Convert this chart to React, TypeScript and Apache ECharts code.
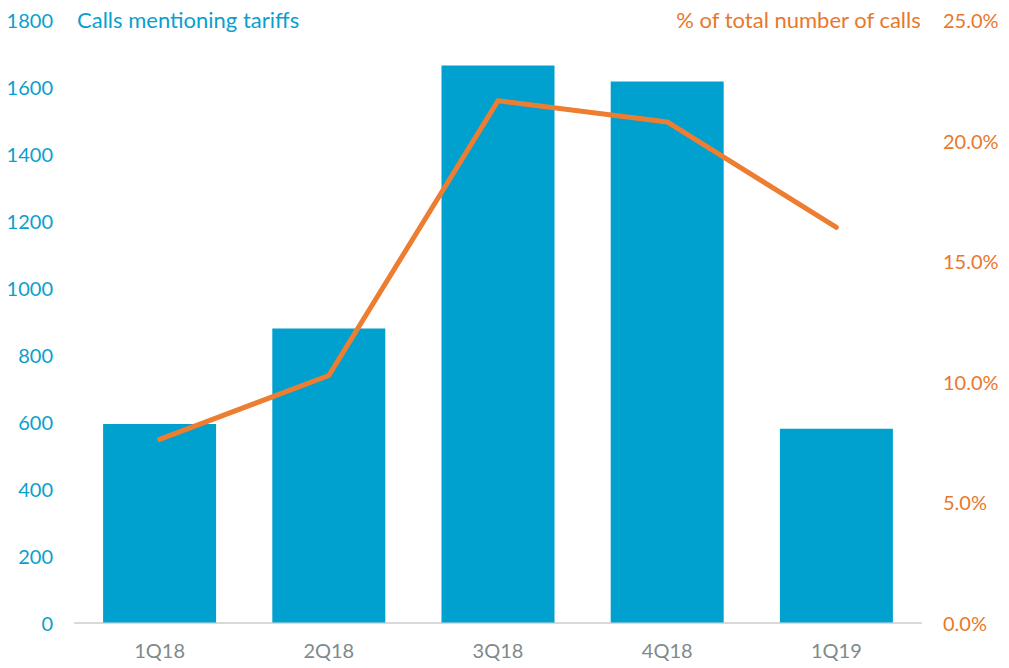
import React, { useEffect, useRef } from "react";
import * as echarts from "echarts";

const categories = ["1Q18", "2Q18", "3Q18", "4Q18", "1Q19"];
const callsMentioningTariffs = [593, 878, 1664, 1616, 579];
const pctOfTotalCalls = [7.6, 10.25, 21.65, 20.77, 16.4];
const leftTitle = "Calls mentioning tariffs";
const rightTitle = "% of total number of calls";

const BLUE = "#00A1CF";
const BLUE_TEXT = "#0A9FCE";
const ORANGE = "#ED7D31";
const ORANGE_TEXT = "#E8782C";
const GRAY_TEXT = "#7E8A8C";
const FONT = "Lato, 'Open Sans', sans-serif";

export default function App() {
  const ref = useRef<HTMLDivElement>(null);
  useEffect(() => {
    if (!ref.current) return;
    const chart = echarts.init(ref.current, undefined, { renderer: "svg" });
    chart.setOption({
      animation: false,
      backgroundColor: "#ffffff",
      grid: { left: 75, right: 88, top: 20, bottom: 45.5, containLabel: false },
      graphic: [
        {
          type: "text",
          left: 77,
          top: 8,
          style: { text: leftTitle, fill: BLUE_TEXT, font: `22px ${FONT}` },
        },
        {
          type: "text",
          right: 87,
          top: 8,
          style: { text: rightTitle, fill: ORANGE_TEXT, font: `22px ${FONT}` },
        },
      ],
      xAxis: {
        type: "category",
        data: categories,
        axisLine: { show: true, lineStyle: { color: "#D9D9D9", width: 2 } },
        axisTick: { show: false },
        axisLabel: { color: GRAY_TEXT, fontSize: 20, fontFamily: FONT, margin: 17 },
      },
      yAxis: [
        {
          type: "value",
          min: 0,
          max: 1800,
          interval: 200,
          splitLine: { show: false },
          axisLine: { show: false },
          axisTick: { show: false },
          axisLabel: {
            color: BLUE_TEXT,
            fontSize: 20,
            fontFamily: FONT,
            margin: 22,
            formatter: (v: number) => String(v),
          },
        },
        {
          type: "value",
          min: 0,
          max: 25,
          interval: 5,
          position: "right",
          splitLine: { show: false },
          axisLine: { show: false },
          axisTick: { show: false },
          axisLabel: {
            color: ORANGE_TEXT,
            fontSize: 20,
            fontFamily: FONT,
            margin: 22,
            formatter: (v: number) => v.toFixed(1) + "%",
          },
        },
      ],
      series: [
        {
          type: "bar",
          data: callsMentioningTariffs,
          yAxisIndex: 0,
          barWidth: 113,
          itemStyle: { color: BLUE },
        },
        {
          type: "line",
          data: pctOfTotalCalls,
          yAxisIndex: 1,
          showSymbol: false,
          symbol: "none",
          lineStyle: { color: ORANGE, width: 5, cap: "round", join: "round" },
        },
      ],
    });
    return () => chart.dispose();
  }, []);
  return (
    <div
      ref={ref}
      style={{ position: "absolute", left: 0, top: 0, width: 1009, height: 668 }}
    />
  );
}
